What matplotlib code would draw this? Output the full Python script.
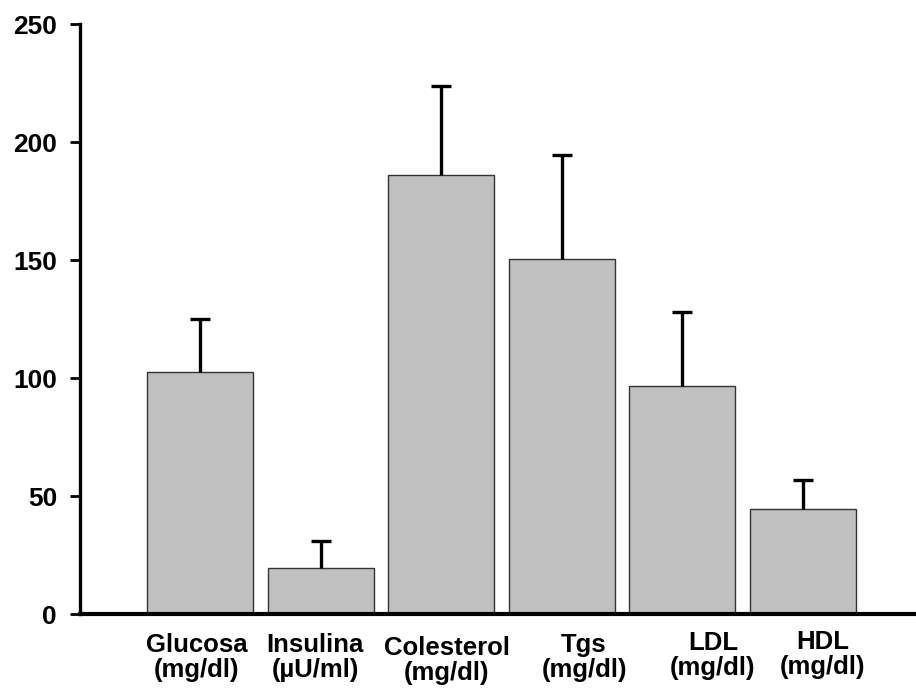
import matplotlib
matplotlib.use('Agg')
import matplotlib.pyplot as plt
import numpy as np

# data
labels = ['Glucosa\n(mg/dl)', 'Insulina\n(\u00b5U/ml)', 'Colesterol\n(mg/dl)',
          'Tgs\n(mg/dl)', 'LDL\n(mg/dl)', 'HDL\n(mg/dl)']
means = [102.5, 19.5, 186.0, 150.5, 96.6, 44.8]
errs = [22.5, 11.5, 38.0, 44.0, 31.5, 12.0]
yticks = [0, 50, 100, 150, 200, 250]

# label nudges (points), the labels are not exactly under the bars
label_dx = [-2.5, -4, 4, 16, 22, 14]
label_dy = [-13.5, -13.5, -15.5, -13.5, -12, -11]

plt.rcParams['font.family'] = ['Liberation Sans', 'DejaVu Sans']
plt.rcParams['font.weight'] = 'bold'

fig = plt.figure(figsize=(9.16, 6.89), dpi=100)
ax = fig.add_axes([80 / 916, 1 - 614.3 / 689, (916 - 80) / 916, (614.3 - 24.3) / 689])

x = np.arange(len(means))
ax.bar(x, means, width=0.88, color='#c0c0c0', edgecolor='#333333', linewidth=1.0, zorder=2)
eb = ax.errorbar(x, means, yerr=[np.zeros(len(errs)), errs], fmt='none', ecolor='black',
                 elinewidth=2.4, capsize=7.2, capthick=2.4, zorder=3)
# only the upper cap is drawn in the original
eb.lines[1][0].set_visible(False)

ax.set_xlim(-0.995, 5.937)
ax.set_ylim(0, 250)
ax.set_yticks(yticks)
ax.set_yticklabels([str(t) for t in yticks], fontsize=19, fontweight='bold')
ax.set_xticks([])

for s in ['top', 'right']:
    ax.spines[s].set_visible(False)
ax.spines['left'].set_linewidth(2.4)
ax.spines['bottom'].set_linewidth(3.0)
ax.tick_params(axis='y', direction='out', length=7.5, width=2.0, pad=9)

for i, lab in enumerate(labels):
    ax.annotate(lab, xy=(x[i], 0), xycoords=('data', 'axes fraction'),
                xytext=(label_dx[i], label_dy[i]), textcoords='offset points',
                ha='center', va='top', fontsize=18.5, fontweight='bold',
                linespacing=1.05, annotation_clip=False)

fig.savefig('out.png', dpi=100)
